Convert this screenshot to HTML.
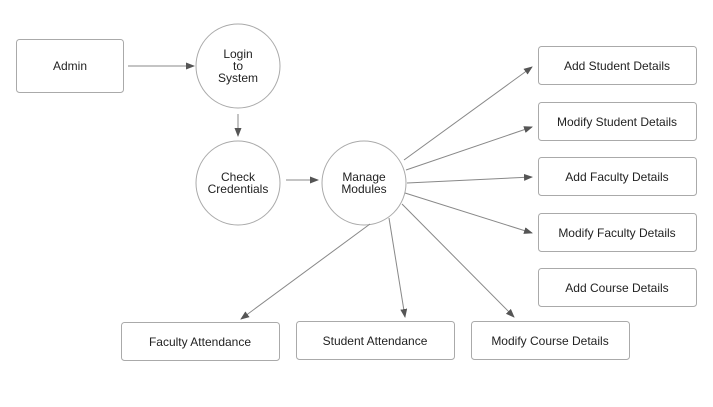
<!DOCTYPE html>
<html><head><style>body{margin:0;background:#fff}svg{display:block}text{font-family:"Liberation Sans",Arial,sans-serif;font-size:12px;fill:#222;text-anchor:middle}</style></head>
<body>
<svg width="713" height="407" viewBox="0 0 713 407">
<defs><marker id="a" markerWidth="9" markerHeight="7" refX="8" refY="3.5" orient="auto" markerUnits="userSpaceOnUse"><path d="M0,0L9,3.5L0,7z" fill="#555"/></marker></defs>
<g fill="#fff" stroke="#aaa" stroke-width="1">
<rect x="16.5" y="39.5" width="107" height="53" rx="3"/>
<circle cx="238" cy="66" r="42"/>
<circle cx="238" cy="183" r="42"/>
<circle cx="364" cy="183" r="42"/>
<rect x="538.5" y="46.5" width="158" height="38" rx="3"/>
<rect x="538.5" y="102.5" width="158" height="38" rx="3"/>
<rect x="538.5" y="157.5" width="158" height="38" rx="3"/>
<rect x="538.5" y="213.5" width="158" height="38" rx="3"/>
<rect x="538.5" y="268.5" width="158" height="38" rx="3"/>
<rect x="121.5" y="322.5" width="158" height="38" rx="3"/>
<rect x="296.5" y="321.5" width="158" height="38" rx="3"/>
<rect x="471.5" y="321.5" width="158" height="38" rx="3"/>
</g>
<g stroke="#888" stroke-width="1" fill="none" marker-end="url(#a)">
<line x1="128" y1="66" x2="194" y2="66"/>
<line x1="238" y1="114" x2="238" y2="136"/>
<line x1="286" y1="180" x2="318" y2="180"/>
<line x1="404" y1="160" x2="532" y2="67"/>
<line x1="406" y1="170" x2="532" y2="127"/>
<line x1="407" y1="183" x2="532" y2="177"/>
<line x1="405" y1="193" x2="532" y2="233"/>
<line x1="370" y1="224" x2="241" y2="319"/>
<line x1="389" y1="218" x2="405" y2="317"/>
<line x1="402" y1="204" x2="514" y2="317"/>
</g>
<text x="70" y="70">Admin</text>
<text x="238" y="58">Login</text><text x="238" y="70">to</text><text x="238" y="82">System</text>
<text x="238" y="181">Check</text><text x="238" y="193">Credentials</text>
<text x="364" y="181">Manage</text><text x="364" y="193">Modules</text>
<text x="617" y="70">Add Student Details</text>
<text x="617" y="126">Modify Student Details</text>
<text x="617" y="181">Add Faculty Details</text>
<text x="617" y="237">Modify Faculty Details</text>
<text x="617" y="292">Add Course Details</text>
<text x="200" y="346">Faculty Attendance</text>
<text x="375" y="345">Student Attendance</text>
<text x="550" y="345">Modify Course Details</text>
</svg>
</body></html>
